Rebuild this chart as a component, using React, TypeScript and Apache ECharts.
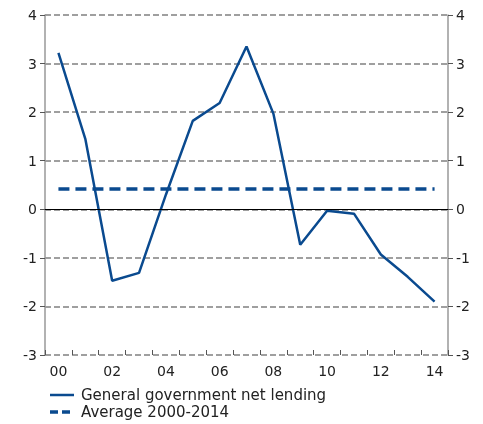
import React, { useEffect, useRef } from "react";
import * as echarts from "echarts";

const years = ["00","01","02","03","04","05","06","07","08","09","10","11","12","13","14"];
const netLending = [3.22, 1.45, -1.47, -1.31, 0.3, 1.82, 2.19, 3.35, 1.97, -0.73, -0.03, -0.09, -0.93, -1.39, -1.9];
const averageValue = 0.42;
const averageLine = years.map(() => averageValue);
const seriesNames = ["General government net lending", "Average 2000-2014"];

const FONT = "DejaVu Sans";
const BLUE = "#0a4a8f";

export default function App() {
  const ref = useRef<HTMLDivElement>(null);
  useEffect(() => {
    const chart = echarts.init(ref.current!, null, { renderer: "svg" });
    const yAxisBase = {
      type: "value",
      min: -3,
      max: 4,
      interval: 1,
      axisLine: { show: true, lineStyle: { color: "#999", width: 1.5 } },
      axisTick: { show: true, length: 5, lineStyle: { color: "#555" } },
      axisLabel: { color: "#222", fontSize: 14, fontFamily: FONT, margin: 8 },
    };
    const legendItem = (i: number, y: number, dash: number[] | "solid", width: number) => [
      {
        type: "line",
        shape: { x1: 50, y1: y, x2: 74, y2: y },
        style: { stroke: BLUE, lineWidth: width, lineDash: dash === "solid" ? null : dash },
      },
      {
        type: "text",
        x: 81,
        y: y,
        style: {
          text: seriesNames[i],
          fill: "#222",
          font: `15px "${FONT}"`,
          textVerticalAlign: "middle",
          verticalAlign: "middle",
        },
      },
    ];
    chart.setOption({
      animation: false,
      grid: { left: 45, right: 35, top: 15, bottom: 69 },
      xAxis: {
        type: "category",
        data: years,
        boundaryGap: true,
        axisLine: { show: false, onZero: false },
        axisTick: { show: true, inside: true, length: 5, interval: 0, lineStyle: { color: "#555" } },
        axisLabel: { interval: 1, color: "#222", fontSize: 14, fontFamily: FONT, margin: 9 },
      },
      yAxis: [
        {
          ...yAxisBase,
          position: "left",
          splitLine: { show: true, lineStyle: { color: "#808080", type: [6, 3], width: 1.5 } },
        },
        {
          ...yAxisBase,
          position: "right",
          splitLine: { show: false },
        },
      ],
      graphic: [...legendItem(0, 395, "solid", 2.5), ...legendItem(1, 412, [8, 4], 3.5)],
      series: [
        {
          name: seriesNames[0],
          type: "line",
          data: netLending,
          symbol: "none",
          lineStyle: { color: BLUE, width: 2.5 },
          itemStyle: { color: BLUE },
          markLine: {
            silent: true,
            symbol: "none",
            label: { show: false },
            lineStyle: { color: "#000", type: "solid", width: 1.2 },
            data: [{ yAxis: 0 }],
          },
          z: 3,
        },
        {
          name: seriesNames[1],
          type: "line",
          data: averageLine,
          symbol: "none",
          lineStyle: { color: BLUE, width: 3.5, type: [11, 6] },
          itemStyle: { color: BLUE },
          z: 2,
        },
      ],
    });
    return () => chart.dispose();
  }, []);
  return <div ref={ref} style={{ position: "fixed", left: 0, top: 0, width: 483, height: 424 }} />;
}
